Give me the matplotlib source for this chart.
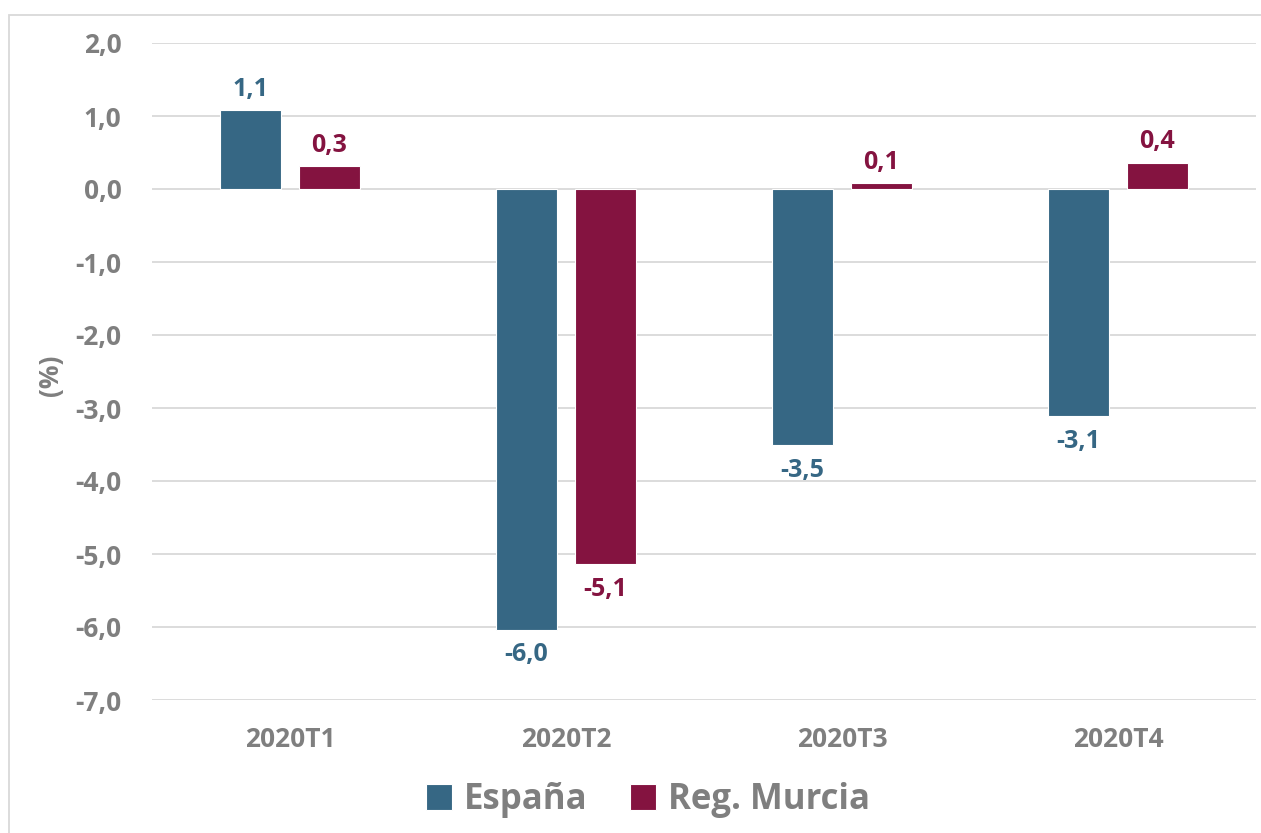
import numpy as np
import matplotlib.pyplot as plt
from matplotlib.patches import Rectangle

# Datos (variación trimestral, %)
trimestres = ["2020T1", "2020T2", "2020T3", "2020T4"]
espana = [1.08, -6.04, -3.51, -3.11]
murcia = [0.31, -5.14, 0.08, 0.36]
etiquetas_espana = ["1,1", "-6,0", "-3,5", "-3,1"]
etiquetas_murcia = ["0,3", "-5,1", "0,1", "0,4"]

AZUL = "#366784"
GRANATE = "#841340"
GRIS = "#7f7f7f"
plt.rcParams['font.family'] = ['Open Sans', 'DejaVu Sans']

fig = plt.figure(figsize=(12.61, 8.33), dpi=100)
ax = fig.add_axes([152 / 1261, 1 - 700 / 833, (1256 - 152) / 1261, (700 - 43) / 833])

x = np.arange(len(trimestres))
ancho = 0.222
desp = 0.143
b1 = ax.bar(x - desp, espana, ancho, color=AZUL, edgecolor="white", linewidth=0.8, zorder=3, label="España")
b2 = ax.bar(x + desp, murcia, ancho, color=GRANATE, edgecolor="white", linewidth=0.8, zorder=3, label="Reg. Murcia")

def poner_etiquetas(barras, textos, color):
    for barra, txt in zip(barras, textos):
        h = barra.get_height()
        cx = barra.get_x() + barra.get_width() / 2
        if h >= 0:
            ax.annotate(txt, (cx, h), xytext=(0, 6), textcoords="offset points",
                        ha="center", va="bottom", color=color, fontsize=18, fontweight="bold")
        else:
            ax.annotate(txt, (cx, h), xytext=(0, -9), textcoords="offset points",
                        ha="center", va="top", color=color, fontsize=18, fontweight="bold")

poner_etiquetas(b1, etiquetas_espana, AZUL)
poner_etiquetas(b2, etiquetas_murcia, GRANATE)

ax.set_xlim(-0.5, 3.5)
ax.set_ylim(-7, 2)
ax.set_yticks(np.arange(-7, 2.1, 1))
ax.set_yticklabels([f"{v:.1f}".replace(".", ",") for v in np.arange(-7, 2.1, 1)])
ax.set_xticks(x)
ax.set_xticklabels(trimestres)
ax.tick_params(axis="both", length=0, colors=GRIS, labelsize=19)
ax.tick_params(axis="y", pad=22)
ax.tick_params(axis="x", pad=19)
for lab in ax.get_xticklabels() + ax.get_yticklabels():
    lab.set_fontweight("bold")
ax.grid(axis="y", color="#d9d9d9", linewidth=1.3, zorder=0)
for s in ax.spines.values():
    s.set_visible(False)

fig.text(51 / 1261, 1 - 375 / 833, "(%)", rotation=90, ha="center", va="center",
         color=GRIS, fontsize=19, fontweight="bold")

leg = fig.legend(handles=[b1, b2], loc="center", bbox_to_anchor=(648 / 1261, 1 - 800 / 833),
                 ncol=2, frameon=False, fontsize=25, handlelength=0.75, handleheight=0.75,
                 handletextpad=0.35, columnspacing=1.2)
for t in leg.get_texts():
    t.set_color(GRIS)
    t.set_fontweight("bold")

# marco gris claro de la figura
fig.patches.append(Rectangle((9 / 1261, -0.1), 1.2, 1 - 15 / 833 + 0.1, transform=fig.transFigure,
                             fill=False, edgecolor="#d9d9d9", linewidth=1.3))

fig.savefig("out.png", dpi=100)
